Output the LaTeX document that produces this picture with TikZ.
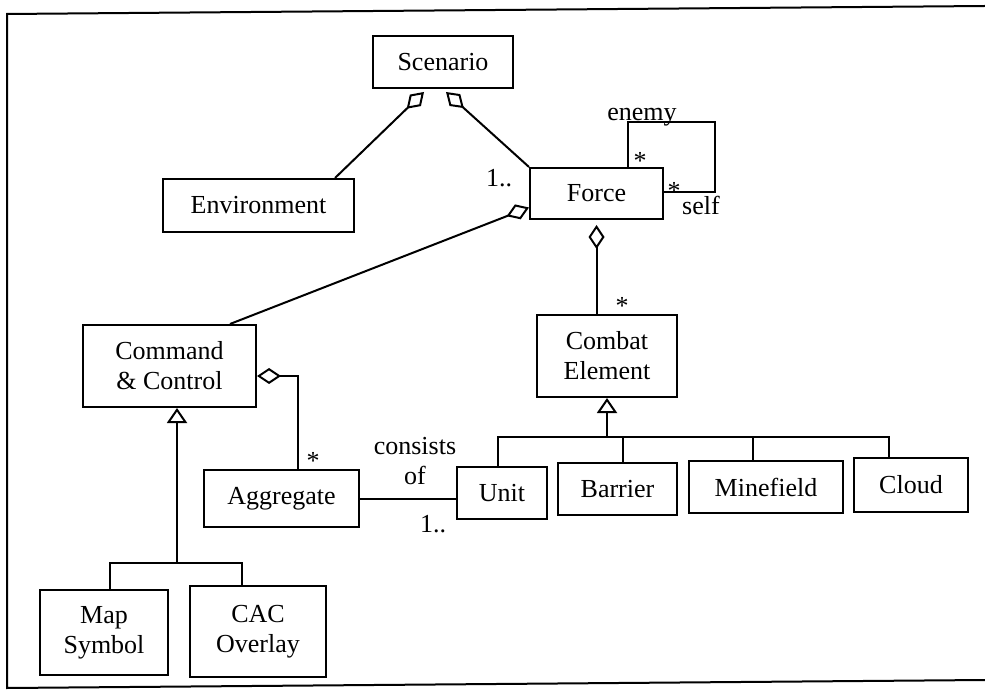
\documentclass[tikz,border=0pt]{standalone}
\usepackage{fontspec}
\setmainfont{Liberation Serif}
\usetikzlibrary{arrows.meta,calc}

\begin{document}
\begin{tikzpicture}[x=1pt,y=-1pt,
  every node/.style={font=\fontsize{26}{30}\selectfont},
  cls/.style={draw,line width=2pt,align=center,inner sep=0pt},
  lnk/.style={line width=2pt},
  aggr/.style={lnk,-{Diamond[open,length=24pt,width=16pt]}},
  inh/.style={lnk,-{Triangle[open,length=15pt,width=20pt]}}]
\useasboundingbox (0,0) rectangle (985,692);
\draw[line width=2pt] (985,6) -- (7,14) -- (7,688) -- (985,680);

% classes
\node[cls,minimum width=140pt,minimum height=52pt] (scen) at (443,62) {Scenario};
\node[cls,minimum width=191pt,minimum height=53pt] (env) at (258.5,205.5) {Environment};
\node[cls,minimum width=133pt,minimum height=51pt] (force) at (596.5,193.5) {Force};
\node[cls,minimum width=173pt,minimum height=82pt] (cc) at (169.5,366) {Command\\\& Control};
\node[cls,minimum width=140pt,minimum height=82pt] (ce) at (607,356) {Combat\\Element};
\node[cls,minimum width=155pt,minimum height=57pt] (agg) at (281.5,498.5) {Aggregate};
\node[cls,minimum width=90pt,minimum height=52pt] (unit) at (502,493) {Unit};
\node[cls,minimum width=119pt,minimum height=52pt] (barr) at (617.5,489) {Barrier};
\node[cls,minimum width=154pt,minimum height=52pt] (mine) at (766,487) {Minefield};
\node[cls,minimum width=114pt,minimum height=54pt] (cloud) at (911,485) {Cloud};
\node[cls,minimum width=128pt,minimum height=85pt] (map) at (104,632.5) {Map\\Symbol};
\node[cls,minimum width=136pt,minimum height=91pt] (cac) at (258,631.5) {CAC\\Overlay};

% aggregations
\draw[aggr] ([xshift=76.5pt]env.north) -- ([xshift=-19pt,yshift=-3pt]scen.south);
\draw[aggr] (force.north west) -- ([xshift=3pt,yshift=-3pt]scen.south);
\draw[aggr] ([xshift=60.5pt]cc.north) -- ([yshift=-14pt]force.west);
\draw[aggr] (ce.north -| force.south) -- ([yshift=-5pt]force.south);
\draw[aggr] ([xshift=16.5pt]agg.north) |- ([yshift=-10pt]cc.east);

% associations
\draw[lnk] ([xshift=31.5pt]force.north) |- ++(87,-45) |- ([yshift=1.5pt]force.east);
\draw[lnk] (agg.east) -- (agg.east -| unit.west);

% generalizations
\coordinate (ccbar) at (177,563);
\coordinate (cebar) at (607,437);
\draw[inh] (ccbar) -- ([xshift=7.5pt]cc.south);
\draw[lnk] ([xshift=6pt]map.north) |- (ccbar) -| ([xshift=-16pt]cac.north);
\draw[inh] (cebar) -- (ce.south);
\draw[lnk] ([xshift=-4pt]unit.north) |- (cebar) -| ([xshift=-22pt]cloud.north);
\draw[lnk] ([xshift=5.5pt]barr.north) -- ([xshift=5.5pt]barr.north |- cebar);
\draw[lnk] ([xshift=-13pt]mine.north) -- ([xshift=-13pt]mine.north |- cebar);

% labels
\node[anchor=base] (lenemy) at (642,121) {enemy};
\node[anchor=base] (lself) at (701,215) {self};
\node[anchor=base] (lst1) at (640,170) {*};
\node[anchor=base] (lst2) at (674,200) {*};
\node[anchor=base] (lst3) at (622,315) {*};
\node[anchor=base] (lst4) at (313,469) {*};
\node[anchor=base] (lone1) at (499,187) {1..};
\node[anchor=base] (lone2) at (433,532) {1..};
\node[align=center] (lcons) at (415,461) {consists\\of};
\end{tikzpicture}
\end{document}
